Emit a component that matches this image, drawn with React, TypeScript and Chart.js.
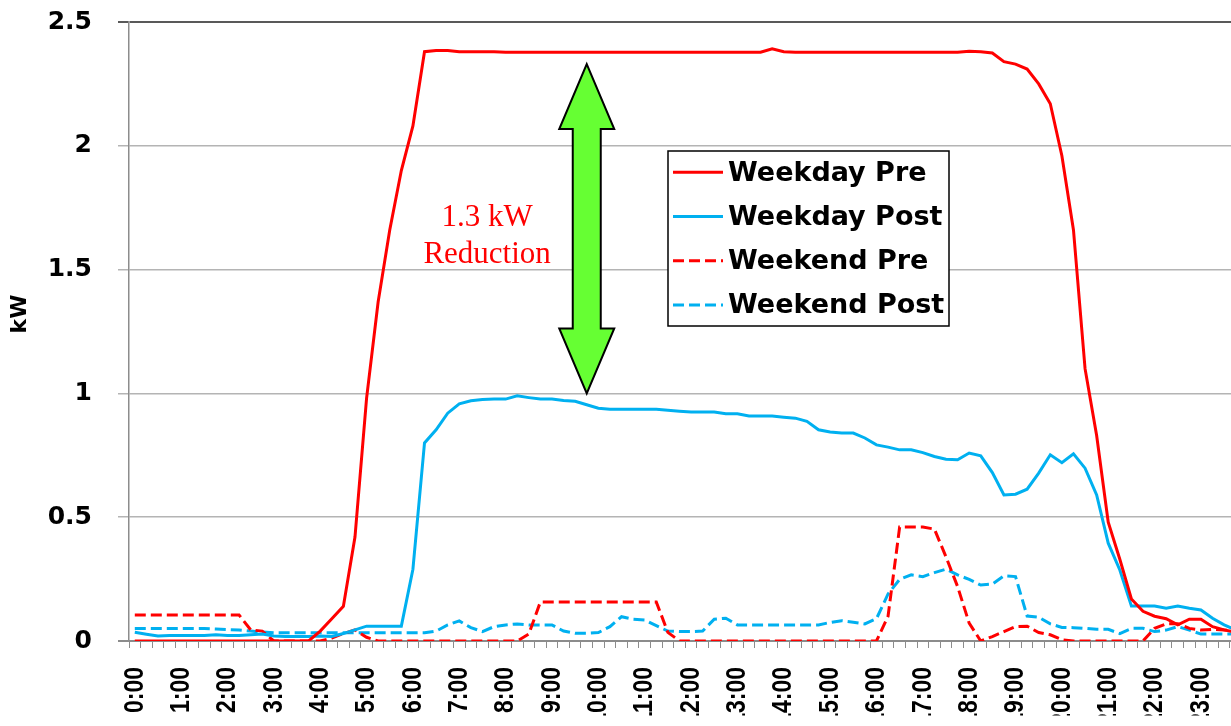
import React, { useEffect, useRef } from 'react';
import { Chart, registerables } from 'chart.js';

Chart.register(...registerables);

// ---------- data ----------
const HOURS = [
  '0:00', '1:00', '2:00', '3:00', '4:00', '5:00', '6:00', '7:00',
  '8:00', '9:00', '10:00', '11:00', '12:00', '13:00', '14:00', '15:00',
  '16:00', '17:00', '18:00', '19:00', '20:00', '21:00', '22:00', '23:00',
];
const QUARTERS = ['00', '15', '30', '45'];
const CATEGORIES = HOURS.flatMap((h) => QUARTERS.map((q) => h.replace(':00', ':' + q)));

const SERIES_NAMES = ['Weekday Pre', 'Weekday Post', 'Weekend Pre', 'Weekend Post'];

const WEEKDAY_PRE = [
  0, 0, 0, 0, 0, 0, 0, 0,
  0, 0, 0, 0, 0, 0, 0, 0,
  0.04, 0.09, 0.14, 0.42, 0.98, 1.37, 1.66, 1.9,
  2.08, 2.38, 2.385, 2.385, 2.38, 2.38, 2.38, 2.38,
  2.378, 2.378, 2.378, 2.378, 2.378, 2.378, 2.378, 2.378,
  2.378, 2.378, 2.378, 2.378, 2.378, 2.378, 2.378, 2.378,
  2.378, 2.378, 2.378, 2.378, 2.378, 2.378, 2.378, 2.392,
  2.38, 2.378, 2.378, 2.378, 2.378, 2.378, 2.378, 2.378,
  2.378, 2.378, 2.378, 2.378, 2.378, 2.378, 2.378, 2.378,
  2.382, 2.38, 2.375, 2.34, 2.33, 2.31, 2.25, 2.17,
  1.96, 1.66, 1.1, 0.83, 0.48, 0.33, 0.17, 0.12,
  0.1, 0.09, 0.065, 0.088, 0.088, 0.058, 0.045, 0.035,
];

const WEEKDAY_POST = [
  0.035, 0.027, 0.02, 0.022, 0.022, 0.022, 0.022, 0.025,
  0.022, 0.022, 0.025, 0.028, 0.02, 0.018, 0.018, 0.018,
  0.02, 0.018, 0.03, 0.045, 0.06, 0.06, 0.06, 0.06,
  0.29, 0.8, 0.853, 0.92, 0.958, 0.97, 0.975, 0.977,
  0.977, 0.99, 0.983, 0.977, 0.977, 0.971, 0.968, 0.954,
  0.94, 0.936, 0.936, 0.936, 0.936, 0.936, 0.932, 0.928,
  0.925, 0.925, 0.925, 0.918, 0.918, 0.909, 0.909, 0.909,
  0.904, 0.9, 0.887, 0.853, 0.844, 0.84, 0.84, 0.82,
  0.792, 0.783, 0.772, 0.772, 0.761, 0.745, 0.734, 0.732,
  0.759, 0.748, 0.68, 0.59, 0.593, 0.613, 0.678, 0.752,
  0.72, 0.756, 0.698, 0.59, 0.395, 0.287, 0.141, 0.141,
  0.141, 0.132, 0.141, 0.132, 0.125, 0.092, 0.065, 0.045,
];

const WEEKEND_PRE = [
  0.105, 0.105, 0.105, 0.105, 0.105, 0.105, 0.105, 0.105,
  0.105, 0.105, 0.045, 0.04, 0, 0, 0, 0,
  0, 0.012, 0.03, 0.045, 0.015, 0, 0, 0,
  0, 0, 0, 0, 0, 0, 0, 0,
  0, 0, 0.028, 0.158, 0.158, 0.158, 0.158, 0.158,
  0.158, 0.158, 0.158, 0.158, 0.158, 0.158, 0.035, 0,
  0, 0, 0, 0, 0, 0, 0, 0,
  0, 0, 0, 0, 0, 0, 0, 0,
  0, 0.1, 0.46, 0.46, 0.46, 0.452, 0.34, 0.22,
  0.072, 0, 0.018, 0.038, 0.058, 0.06, 0.034, 0.025,
  0.005, 0, 0, 0, 0, 0, 0, 0,
  0.051, 0.069, 0.07, 0.051, 0.044, 0.047, 0.044, 0.04,
];

const WEEKEND_POST = [
  0.05, 0.05, 0.05, 0.05, 0.05, 0.05, 0.05, 0.048,
  0.046, 0.044, 0.04, 0.036, 0.033, 0.033, 0.033, 0.033,
  0.033, 0.033, 0.033, 0.033, 0.033, 0.033, 0.033, 0.033,
  0.033, 0.033, 0.04, 0.065, 0.081, 0.054, 0.038, 0.058,
  0.065, 0.069, 0.065, 0.065, 0.065, 0.04, 0.031, 0.031,
  0.034, 0.058, 0.098, 0.088, 0.085, 0.062, 0.04, 0.038,
  0.038, 0.04, 0.088, 0.092, 0.065, 0.065, 0.065, 0.065,
  0.065, 0.065, 0.065, 0.065, 0.075, 0.082, 0.076, 0.069,
  0.09, 0.19, 0.249, 0.267, 0.26, 0.276, 0.29, 0.267,
  0.249, 0.226, 0.23, 0.263, 0.26, 0.101, 0.096, 0.069,
  0.055, 0.054, 0.051, 0.047, 0.047, 0.03, 0.051, 0.051,
  0.038, 0.044, 0.058, 0.044, 0.028, 0.028, 0.028, 0.028,
];

const Y_MIN = 0;
const Y_MAX = 2.5;
const Y_STEP = 0.5;
const Y_TITLE = 'kW';

// annotation: double arrow between the two weekday levels, and the note
const ARROW_INDEX = 39;
const ARROW_FROM = 1.0;
const ARROW_TO = 2.33;
const NOTE_INDEX = 30.4;
const NOTE_LINES = ['1.3 kW', 'Reduction'];
const NOTE_VALUES = [1.675, 1.527];

// ---------- styles ----------
const RED = '#FF0000';
const BLUE = '#00B0F0';
const DASH = [11, 5];
const BOLD_SANS = '"DejaVu Sans", Verdana, sans-serif';
const X_FONT = '"Liberation Sans", Arial, sans-serif';
const X_TICK_LEN = 7;
const X_TICK_PAD = 19;
const X_LABEL_SQUEEZE = 0.82; // narrow-font look for the time labels

const overlayPlugin = {
  id: 'overlay',
  afterUpdate(chart: any) {
    // condense the rotated time labels along their text direction
    const s = chart.scales.x;
    if (s && !s.__squeezed) {
      const orig = s.drawLabels.bind(s);
      s.drawLabels = (area: any) => {
        const ctx = s.ctx;
        const anchor = s.top + X_TICK_LEN + X_TICK_PAD;
        ctx.save();
        ctx.translate(0, anchor);
        ctx.scale(1, X_LABEL_SQUEEZE);
        ctx.translate(0, -anchor);
        orig(area);
        ctx.restore();
      };
      s.__squeezed = true;
    }
  },
  afterDraw(chart: any) {
    const { ctx } = chart;
    const xs = chart.scales.x;
    const ys = chart.scales.y;
    ctx.save();

    // double arrow
    const cx = xs.getPixelForValue(ARROW_INDEX);
    const top = ys.getPixelForValue(ARROW_TO);
    const bottom = ys.getPixelForValue(ARROW_FROM);
    const headH = 65;
    const headW = 55;
    const shaftW = 28;
    ctx.beginPath();
    ctx.moveTo(cx, top);
    ctx.lineTo(cx + headW / 2, top + headH);
    ctx.lineTo(cx + shaftW / 2, top + headH);
    ctx.lineTo(cx + shaftW / 2, bottom - headH);
    ctx.lineTo(cx + headW / 2, bottom - headH);
    ctx.lineTo(cx, bottom);
    ctx.lineTo(cx - headW / 2, bottom - headH);
    ctx.lineTo(cx - shaftW / 2, bottom - headH);
    ctx.lineTo(cx - shaftW / 2, top + headH);
    ctx.lineTo(cx - headW / 2, top + headH);
    ctx.closePath();
    ctx.fillStyle = '#66FF33';
    ctx.fill();
    ctx.lineWidth = 2;
    ctx.strokeStyle = '#000';
    ctx.lineJoin = 'miter';
    ctx.stroke();

    // note
    ctx.fillStyle = RED;
    ctx.font = '31px "Liberation Serif", "Times New Roman", serif';
    ctx.textAlign = 'center';
    ctx.textBaseline = 'alphabetic';
    const nx = xs.getPixelForValue(NOTE_INDEX);
    NOTE_LINES.forEach((t, i) => ctx.fillText(t, nx, ys.getPixelForValue(NOTE_VALUES[i])));

    // legend box
    const lx = 668, ly = 151, lw = 281, lh = 175;
    ctx.fillStyle = '#fff';
    ctx.fillRect(lx, ly, lw, lh);
    ctx.lineWidth = 1.5;
    ctx.strokeStyle = '#000';
    ctx.strokeRect(lx, ly, lw, lh);
    ctx.font = 'bold 27px ' + BOLD_SANS;
    ctx.textAlign = 'left';
    chart.data.datasets.forEach((ds: any, i: number) => {
      const rowY = 172.3 + i * 44.2;
      ctx.beginPath();
      ctx.setLineDash(ds.borderDash || []);
      ctx.strokeStyle = ds.borderColor;
      ctx.lineWidth = 3;
      ctx.moveTo(673, rowY);
      ctx.lineTo(723, rowY);
      ctx.stroke();
      ctx.setLineDash([]);
      ctx.fillStyle = '#000';
      ctx.fillText(ds.label, 728, rowY + 8.5);
    });

    // y-axis title
    ctx.translate(20, 314);
    ctx.rotate(-Math.PI / 2);
    ctx.font = 'bold 22px ' + BOLD_SANS;
    ctx.textAlign = 'center';
    ctx.textBaseline = 'middle';
    ctx.fillStyle = '#000';
    ctx.fillText(Y_TITLE, 0, 0);
    ctx.restore();
  },
};

export default function App() {
  const ref = useRef<HTMLCanvasElement>(null);

  useEffect(() => {
    const make = (label: string, data: number[], color: string, dashed: boolean) => ({
      label,
      data,
      borderColor: color,
      backgroundColor: color,
      borderWidth: 3,
      borderDash: dashed ? DASH : [],
      pointRadius: 0,
      tension: 0,
      fill: false,
    });

    const chart = new Chart(ref.current as HTMLCanvasElement, {
      type: 'line',
      data: {
        labels: CATEGORIES,
        datasets: [
          make(SERIES_NAMES[0], WEEKDAY_PRE, RED, false),
          make(SERIES_NAMES[1], WEEKDAY_POST, BLUE, false),
          make(SERIES_NAMES[2], WEEKEND_PRE, RED, true),
          make(SERIES_NAMES[3], WEEKEND_POST, BLUE, true),
        ],
      },
      options: {
        responsive: false,
        animation: false,
        layout: { padding: { left: 0, top: 22, right: 8.5, bottom: 0 } },
        plugins: {
          legend: { display: false },
          tooltip: { enabled: false },
        },
        scales: {
          x: {
            type: 'category',
            offset: true,
            grid: {
              offset: true,
              drawOnChartArea: false,
              drawTicks: true,
              tickLength: X_TICK_LEN,
              color: '#8c8c8c',
              lineWidth: 1,
            },
            border: { display: true, color: '#8c8c8c', width: 2 },
            ticks: {
              autoSkip: false,
              minRotation: 90,
              maxRotation: 90,
              padding: X_TICK_PAD,
              color: '#000',
              font: { family: X_FONT, size: 28, weight: 'bold' },
              callback: (_v: any, i: number) => (CATEGORIES[i].endsWith(':00') ? CATEGORIES[i] : ''),
            },
            afterFit: (s: any) => {
              s.height = 85;
              s.paddingLeft = 0;
              s.paddingRight = 0;
            },
          },
          y: {
            min: Y_MIN,
            max: Y_MAX,
            ticks: {
              stepSize: Y_STEP,
              padding: 26,
              color: '#000',
              font: { family: BOLD_SANS, size: 25, weight: 'bold' },
              callback: (v: any) => String(+v),
            },
            grid: {
              tickLength: 11,
              color: (c: any) => (c.tick && c.tick.value === Y_MAX ? '#595959' : c.tick && c.tick.value === 0 ? '#8c8c8c' : '#b4b4b4'),
              lineWidth: (c: any) => (c.tick && (c.tick.value === Y_MAX || c.tick.value === 0) ? 2 : 1.5),
            },
            border: { display: true, color: '#8c8c8c', width: 1.5 },
            afterFit: (s: any) => {
              s.width = 129;
              s.paddingTop = 0;
              s.paddingBottom = 0;
            },
          },
        },
      } as any,
      plugins: [overlayPlugin],
    });
    return () => chart.destroy();
  }, []);

  return (
    <div
      style={{
        position: 'fixed',
        left: 0,
        top: 0,
        width: 1231,
        height: 726,
        overflow: 'hidden',
        background: '#fff',
      }}
    >
      <canvas ref={ref} width={1250} height={726} style={{ display: 'block', width: 1250, height: 726 }} />
    </div>
  );
}
